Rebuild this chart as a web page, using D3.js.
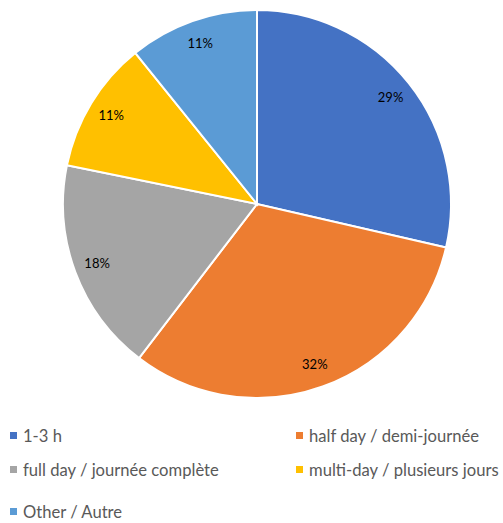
<!DOCTYPE html>
<html>
<head>
<meta charset="utf-8">
<script src="https://cdn.jsdelivr.net/npm/d3@7"></script>
<style>
  body { margin: 0; background: #fff; }
  svg text { font-family: Lato, "Noto Sans", sans-serif; }
</style>
</head>
<body>
<div id="chart"></div>
<script>
var categories = ["1-3 h", "half day / demi-journée", "full day / journée complète", "multi-day / plusieurs jours", "Other / Autre"];
var values = [28.6, 31.8, 17.8, 11.0, 10.8];
var colors = ["#4472C4", "#ED7D31", "#A5A5A5", "#FFC000", "#5B9BD5"];

var width = 503, height = 523;
var cx = 257, cy = 204, radius = 194;

var svg = d3.select("#chart").append("svg")
  .attr("width", width)
  .attr("height", height);

var total = d3.sum(values);
var pie = d3.pie().sort(null).value(function(d) { return d; });
var arcs = pie(values);

var arc = d3.arc().innerRadius(0).outerRadius(radius);
var labelArc = d3.arc().innerRadius(radius * 0.88).outerRadius(radius * 0.88);

var g = svg.append("g").attr("transform", "translate(" + cx + "," + cy + ")");

g.selectAll("path")
  .data(arcs)
  .enter()
  .append("path")
    .attr("d", arc)
    .attr("fill", function(d, i) { return colors[i]; })
    .attr("stroke", "#fff")
    .attr("stroke-width", 2);

g.selectAll("text.lbl")
  .data(arcs)
  .enter()
  .append("text")
    .attr("class", "lbl")
    .attr("transform", function(d) { return "translate(" + labelArc.centroid(d) + ")"; })
    .attr("text-anchor", "middle")
    .attr("dy", "0.35em")
    .attr("font-size", 13)
    .attr("fill", "#000")
    .text(function(d) { return Math.round(d.value / total * 100) + "%"; });

// legend, two columns
var legendX = [10, 296];
var legendY = [436, 470, 512];

var leg = svg.selectAll("g.leg")
  .data(categories)
  .enter()
  .append("g")
    .attr("class", "leg")
    .attr("transform", function(d, i) {
      return "translate(" + legendX[i % 2] + "," + legendY[Math.floor(i / 2)] + ")";
    });

leg.append("rect")
  .attr("x", 0)
  .attr("y", -4)
  .attr("width", 7)
  .attr("height", 7)
  .attr("fill", function(d, i) { return colors[i]; });

leg.append("text")
  .attr("x", 13)
  .attr("dy", "0.35em")
  .attr("font-size", 16.6)
  .attr("fill", "#595959")
  .text(function(d) { return d; });
</script>
</body>
</html>
